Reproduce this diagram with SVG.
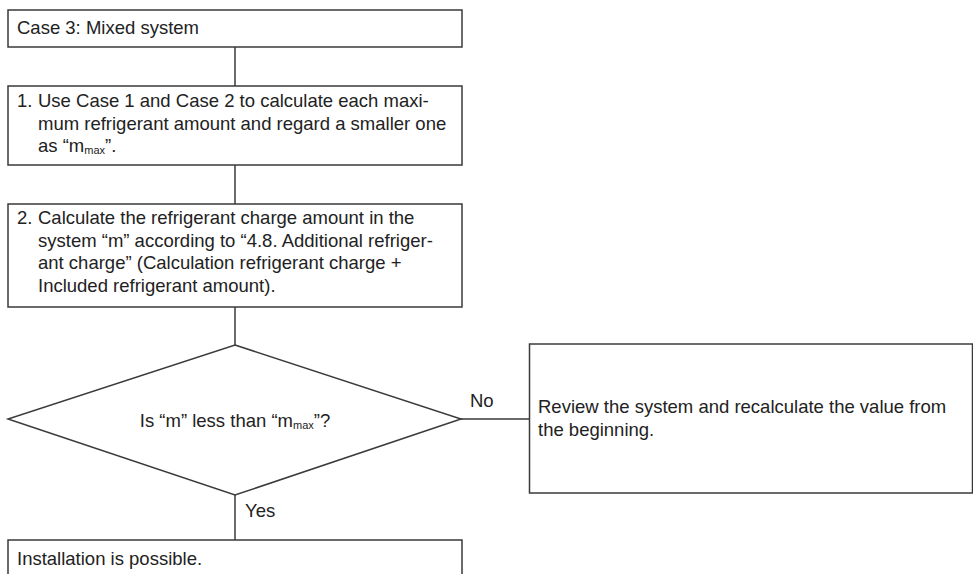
<svg xmlns="http://www.w3.org/2000/svg" width="973" height="574" viewBox="0 0 973 574">
  <style>
    .box { fill: #ffffff; stroke: #3a3a3a; stroke-width: 1.5; }
    .wire { fill: none; stroke: #3a3a3a; stroke-width: 1.5; }
    text { font-family: "Liberation Sans", Arial, sans-serif; font-size: 18.5px; fill: #222222; }
    .sub { font-size: 11px; }
  </style>
  <rect width="973" height="574" fill="#ffffff"/>

  <g id="connectors">
    <line class="wire" x1="235" y1="47" x2="235" y2="86"/>
    <line class="wire" x1="235" y1="165" x2="235" y2="204"/>
    <line class="wire" x1="235" y1="307" x2="235" y2="345"/>
    <line class="wire" x1="461" y1="419" x2="529.5" y2="419"/>
    <line class="wire" x1="235" y1="495" x2="235" y2="540"/>
    <text x="470" y="407">No</text>
    <text x="245" y="517">Yes</text>
  </g>

  <g id="case3">
    <rect class="box" x="8" y="10" width="454" height="37"/>
    <text x="17" y="34">Case 3: Mixed system</text>
  </g>

  <g id="step1">
    <rect class="box" x="8" y="86" width="454" height="79"/>
    <text x="17" y="107">1.</text>
    <text x="38" y="107">Use Case 1 and Case 2 to calculate each maxi-</text>
    <text x="38" y="130">mum refrigerant amount and regard a smaller one</text>
    <text x="38" y="152">as “m<tspan class="sub" dy="2">max</tspan><tspan dy="-2">”.</tspan></text>
  </g>

  <g id="step2">
    <rect class="box" x="8" y="204" width="454" height="103"/>
    <text x="17" y="224">2.</text>
    <text x="38" y="224">Calculate the refrigerant charge amount in the</text>
    <text x="38" y="247">system “m” according to “4.8. Additional refriger-</text>
    <text x="38" y="269">ant charge” (Calculation refrigerant charge +</text>
    <text x="38" y="292">Included refrigerant amount).</text>
  </g>

  <g id="decision">
    <polygon class="box" points="235,345 461,419 235,495 8,419"/>
    <text x="235" y="427" text-anchor="middle">Is “m” less than “m<tspan class="sub" dy="2">max</tspan><tspan dy="-2">”?</tspan></text>
  </g>

  <g id="review">
    <rect class="box" x="529.5" y="344" width="443" height="149"/>
    <text x="538" y="413">Review the system and recalculate the value from</text>
    <text x="538" y="436">the beginning.</text>
  </g>

  <g id="result">
    <rect class="box" x="8" y="540" width="454" height="50"/>
    <text x="17" y="565">Installation is possible.</text>
  </g>
</svg>
